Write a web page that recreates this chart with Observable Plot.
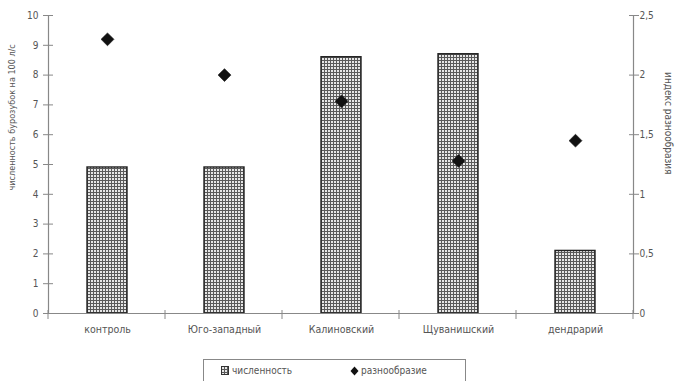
<!DOCTYPE html>
<html>
<head>
<meta charset="utf-8">
<script src="https://cdn.jsdelivr.net/npm/d3@7"></script>
<script src="https://cdn.jsdelivr.net/npm/@observablehq/plot@0.6"></script>
<style>
  html, body { margin: 0; padding: 0; background: #fff; }
  #wrap { position: relative; width: 676px; height: 381px; overflow: hidden;
          font-family: "Liberation Sans Narrow", "DejaVu Sans Condensed", "Arial Narrow", sans-serif; color: #555; }
  #legend { position: absolute; left: 203px; top: 359px; width: 263px; height: 30px;
            border: 1px solid #888; box-sizing: border-box; font-size: 10px; color: #555; }
  #legend .item { position: absolute; top: 5px; display: flex; align-items: center; gap: 2px; }
</style>
</head>
<body>
<div id="wrap">
  <div id="chart"></div>
  <div id="legend">
    <div class="item" style="left:17px">
      <svg width="9" height="10"><rect x="0.5" y="0.5" width="7" height="8" fill="url(#mesh)" stroke="#333"/></svg>
      <span>численность</span>
    </div>
    <div class="item" style="left:146px">
      <svg width="9" height="10"><path d="M4.5,0.5 L8.5,5 L4.5,9.5 L0.5,5 Z" fill="#111"/></svg>
      <span>разнообразие</span>
    </div>
  </div>
</div>
<script>
// Sites, shrew abundance per 100 trap-days, and diversity index
const sites = ["контроль", "Юго-западный", "Калиновский", "Щуванишский", "дендрарий"];
const abundance = [4.9, 4.9, 8.6, 8.7, 2.1];
const diversity = [2.3, 2.0, 1.78, 1.28, 1.45];

const leftTicks = [0, 1, 2, 3, 4, 5, 6, 7, 8, 9, 10];
const rightTicks = [0, 0.5, 1, 1.5, 2, 2.5];

const leftMax = 10;
const rightMax = 2.5;
const k = leftMax / rightMax; // diversity -> left-axis units

const rows = sites.map((site, i) => ({site, count: abundance[i], div: diversity[i]}));
const fmtComma = v => String(v).replace(".", ",");

// Pattern used as the bar fill (fine checkered mesh)
function meshDefs() {
  const svg = d3.create("svg:g");
  const p = svg.append("defs").append("pattern")
    .attr("id", "mesh").attr("patternUnits", "userSpaceOnUse")
    .attr("width", 3).attr("height", 3);
  p.append("rect").attr("width", 3).attr("height", 3).attr("fill", "#e6e6e6");
  p.append("rect").attr("x", 0).attr("y", 0).attr("width", 3).attr("height", 1).attr("fill", "#5a5a5a");
  p.append("rect").attr("x", 0).attr("y", 0).attr("width", 1).attr("height", 3).attr("fill", "#5a5a5a");
  return svg.node();
}

// Small ticks on the baseline between categories
function categoryDividers(index, scales, values, dimensions) {
  const {width, marginLeft, marginRight} = dimensions;
  const y0 = scales.y(0);
  const step = (width - marginLeft - marginRight) / sites.length;
  const g = d3.create("svg:g").attr("stroke", "#888").attr("stroke-width", 1);
  d3.range(sites.length + 1).forEach(i => {
    const xx = marginLeft + i * step;
    g.append("line").attr("x1", xx).attr("x2", xx).attr("y1", y0 - 3).attr("y2", y0 + 6);
  });
  return g.node();
}

const chart = Plot.plot({
  width: 676,
  height: 345,
  marginTop: 15,
  marginBottom: 32,
  marginLeft: 48,
  marginRight: 43,
  style: {fontFamily: '"Liberation Sans Narrow", "DejaVu Sans Condensed", "Arial Narrow", sans-serif', fontSize: "10px", color: "#555", background: "#fff"},
  x: {domain: sites, paddingInner: 0.66, paddingOuter: 0.33, axis: null},
  y: {domain: [0, leftMax], axis: null},
  marks: [
    meshDefs,
    Plot.barY(rows, {x: "site", y: "count", fill: "url(#mesh)", stroke: "#222", strokeWidth: 1.4}),
    Plot.ruleY([0], {stroke: "#888", strokeWidth: 1.2, insetLeft: -4, insetRight: -3}),
    Plot.frame({anchor: "left", stroke: "#888", strokeWidth: 1.2}),
    Plot.frame({anchor: "right", stroke: "#888", strokeWidth: 1.2}),
    categoryDividers,
    Plot.axisX({tickSize: 0, tickPadding: 12, label: null, fontSize: 10.5}),
    Plot.axisY({ticks: leftTicks, tickSize: 10, tickPadding: 5, dx: 5, stroke: "#888", label: null, tickFormat: d => d}),
    Plot.axisY({anchor: "right", ticks: rightTicks.map(v => v * k), tickSize: 10, tickPadding: 1, dx: -5,
                stroke: "#888", label: null, tickFormat: d => fmtComma(d / k)}),
    Plot.dot(rows, {x: "site", y: d => d.div * k, symbol: "diamond2", r: 5.8, fill: "#111", stroke: "#111", strokeWidth: 0.6}),
    Plot.text(["численность бурозубок на 100 л/с"], {frameAnchor: "left", rotate: -90, dx: -36, dy: 26, fontSize: 9, fill: "#555"}),
    Plot.text(["индекс разнообразия"], {frameAnchor: "right", rotate: 90, dx: 35, dy: 10, fontSize: 10, fill: "#555"})
  ]
});

document.getElementById("chart").appendChild(chart);
</script>
</body>
</html>
